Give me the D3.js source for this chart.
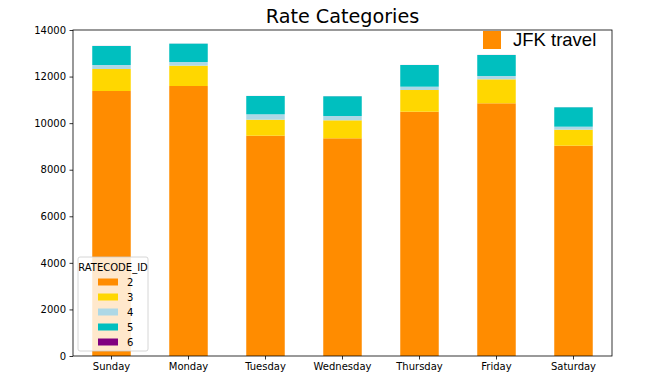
<!DOCTYPE html>
<html>
<head>
<meta charset="utf-8">
<script src="https://d3js.org/d3.v7.min.js"></script>
<style>
  body { margin: 0; background: #fff; }
  svg { font-family: "DejaVu Sans", sans-serif; }
</style>
</head>
<body>
<div id="chart"></div>
<script>
const days = ["Sunday", "Monday", "Tuesday", "Wednesday", "Thursday", "Friday", "Saturday"];
const rateCodes = ["2", "3", "4", "5", "6"];
const rate2 = [11380, 11595, 9461, 9349, 10491, 10852, 9032];
const rate3 = [945, 872, 687, 773, 932, 1030, 687];
const rate4 = [172, 159, 232, 185, 143, 143, 129];
const rate5 = [816, 787, 786, 846, 931, 901, 832];
const rate6 = [3, 2, 2, 3, 2, 3, 2];
const yTicks = [0, 2000, 4000, 6000, 8000, 10000, 12000, 14000];
const colors = ["#FF8C00", "#FFD700", "#ADD8E6", "#00BFBF", "#800080"];

const width = 645, height = 387;
const margin = {top: 30, right: 33, bottom: 31, left: 73};

const rows = days.map((d, i) => ({
  day: d, "2": rate2[i], "3": rate3[i], "4": rate4[i], "5": rate5[i], "6": rate6[i]
}));

const svg = d3.select("#chart").append("svg")
  .attr("width", width)
  .attr("height", height);

const x = d3.scaleBand()
  .domain(days)
  .range([margin.left, width - margin.right])
  .paddingInner(0.5)
  .paddingOuter(0.25);

const y = d3.scaleLinear()
  .domain([0, 14000])
  .range([height - margin.bottom, margin.top]);

const color = d3.scaleOrdinal(rateCodes, colors);

const series = d3.stack().keys(rateCodes)(rows);

svg.append("g")
  .selectAll("g")
  .data(series)
  .join("g")
  .attr("fill", d => color(d.key))
  .selectAll("rect")
  .data(d => d)
  .join("rect")
  .attr("x", d => x(d.data.day))
  .attr("width", x.bandwidth())
  .attr("y", d => y(d[1]))
  .attr("height", d => y(d[0]) - y(d[1]));

// axes
const xAxis = svg.append("g")
  .attr("transform", `translate(0,${height - margin.bottom})`)
  .call(d3.axisBottom(x).tickSize(3.5).tickPadding(3.5));

const yAxis = svg.append("g")
  .attr("transform", `translate(${margin.left},0)`)
  .call(d3.axisLeft(y).tickValues(yTicks).tickFormat(d3.format("d")).tickSize(3.5).tickPadding(3.5));

[xAxis, yAxis].forEach(a => {
  a.select(".domain").remove();
  a.selectAll("text").attr("font-size", 10).attr("fill", "#000").attr("font-family", "DejaVu Sans, sans-serif");
  a.selectAll("line").attr("stroke", "#000").attr("stroke-width", 0.8);
});

// frame
svg.append("rect")
  .attr("x", margin.left)
  .attr("y", margin.top)
  .attr("width", width - margin.left - margin.right)
  .attr("height", height - margin.top - margin.bottom)
  .attr("fill", "none")
  .attr("stroke", "#000")
  .attr("stroke-width", 0.8);

// title
svg.append("text")
  .attr("x", (margin.left + width - margin.right) / 2)
  .attr("y", 23)
  .attr("text-anchor", "middle")
  .attr("font-size", 19.2)
  .text("Rate Categories");

// JFK travel legend
svg.append("rect")
  .attr("x", 483).attr("y", 31)
  .attr("width", 18).attr("height", 18)
  .attr("fill", colors[0]);
svg.append("text")
  .attr("x", 513).attr("y", 46)
  .attr("font-size", 18.5)
  .attr("font-family", "Liberation Sans, Arial, sans-serif")
  .text("JFK travel");

// RATECODE_ID legend
const leg = svg.append("g");
leg.append("rect")
  .attr("x", 78).attr("y", 257)
  .attr("width", 70).attr("height", 94)
  .attr("rx", 2)
  .attr("fill", "#fff")
  .attr("fill-opacity", 0.8)
  .attr("stroke", "#ccc")
  .attr("stroke-width", 0.8);
leg.append("text")
  .attr("x", 113).attr("y", 271)
  .attr("text-anchor", "middle")
  .attr("font-size", 10)
  .text("RATECODE_ID");
rateCodes.forEach((k, i) => {
  const yy = 282 + i * 15;
  leg.append("rect")
    .attr("x", 98).attr("y", yy - 3.5)
    .attr("width", 20).attr("height", 7)
    .attr("fill", color(k));
  leg.append("text")
    .attr("x", 127).attr("y", yy + 3.5)
    .attr("font-size", 10)
    .text(k);
});
</script>
</body>
</html>
